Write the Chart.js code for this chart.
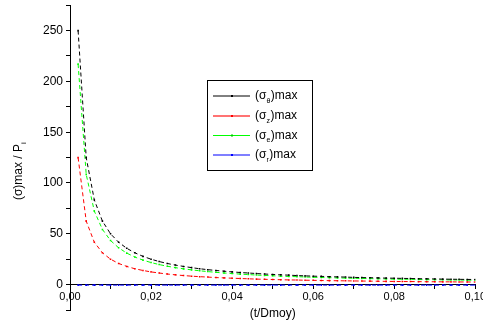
<!DOCTYPE html>
<html>
<head>
<meta charset="utf-8">
<script src="https://cdn.jsdelivr.net/npm/chart.js@4.4.1/dist/chart.umd.min.js"></script>
<style>
    html, body { margin: 0; padding: 0; background: #fff; overflow: hidden; }
    #wrap { position: absolute; left: 0; top: -5px; width: 488px; height: 331px; }
</style>
</head>
<body>
<div id="wrap"><canvas id="sigmaChart"></canvas></div>
<script>
// t/Dmoy values
const tRatio = [0.002, 0.004, 0.006, 0.008, 0.010, 0.012, 0.014, 0.016, 0.018, 0.020,
    0.022, 0.024, 0.026, 0.028, 0.030, 0.032, 0.034, 0.036, 0.038, 0.040,
    0.042, 0.044, 0.046, 0.048, 0.050, 0.052, 0.054, 0.056, 0.058, 0.060,
    0.062, 0.064, 0.066, 0.068, 0.070, 0.072, 0.074, 0.076, 0.078, 0.080,
    0.082, 0.084, 0.086, 0.088, 0.090, 0.092, 0.094, 0.096, 0.098, 0.100];

const sigmaTheta = [250, 125, 83.3, 62.5, 50, 41.7, 35.7, 31.3, 27.8, 25,
    22.7, 20.8, 19.2, 17.9, 16.7, 15.6, 14.7, 13.9, 13.2, 12.5,
    11.9, 11.4, 10.9, 10.4, 10, 9.6, 9.3, 8.9, 8.6, 8.3,
    8.1, 7.8, 7.6, 7.4, 7.1, 6.9, 6.8, 6.6, 6.4, 6.3,
    6.1, 6.0, 5.8, 5.7, 5.6, 5.4, 5.3, 5.2, 5.1, 5.0];

const sigmaZ = [125, 62.5, 41.7, 31.3, 25, 20.8, 17.9, 15.6, 13.9, 12.5,
    11.4, 10.4, 9.6, 8.9, 8.3, 7.8, 7.4, 6.9, 6.6, 6.3,
    6.0, 5.7, 5.4, 5.2, 5.0, 4.8, 4.6, 4.5, 4.3, 4.2,
    4.0, 3.9, 3.8, 3.7, 3.6, 3.5, 3.4, 3.3, 3.2, 3.1,
    3.0, 3.0, 2.9, 2.8, 2.8, 2.7, 2.7, 2.6, 2.6, 2.5];

const sigmaE = [217, 108.5, 72.3, 54.3, 43.4, 36.2, 31, 27.1, 24.1, 21.7,
    19.7, 18.1, 16.7, 15.5, 14.5, 13.6, 12.8, 12.1, 11.4, 10.9,
    10.3, 9.9, 9.4, 9.0, 8.7, 8.3, 8.0, 7.8, 7.5, 7.2,
    7.0, 6.8, 6.6, 6.4, 6.2, 6.0, 5.9, 5.7, 5.6, 5.4,
    5.3, 5.2, 5.0, 4.9, 4.8, 4.7, 4.6, 4.5, 4.4, 4.3];

const sigmaR = [-0.5, -0.5, -0.5, -0.5, -0.5, -0.5, -0.5, -0.5, -0.5, -0.5,
    -0.5, -0.5, -0.5, -0.5, -0.5, -0.5, -0.5, -0.5, -0.5, -0.5,
    -0.5, -0.5, -0.5, -0.5, -0.5, -0.5, -0.5, -0.5, -0.5, -0.5,
    -0.5, -0.5, -0.5, -0.5, -0.5, -0.5, -0.5, -0.5, -0.5, -0.5,
    -0.5, -0.5, -0.5, -0.5, -0.5, -0.5, -0.5, -0.5, -0.5, -0.5];

// legend subscripts for (σ_x)max
const seriesSubs = ["θ", "z", "e", "r"];

const FONT = "'Liberation Sans', Arial, sans-serif";
const OFF_Y = 5; // canvas is shifted up by this much

function toPoints(values) {
    return values.map((v, i) => ({ x: tRatio[i], y: v }));
}

function makeDataset(values, color) {
    return {
        data: toPoints(values),
        borderColor: color,
        backgroundColor: color,
        borderWidth: 1,
        borderDash: [4, 3],
        pointRadius: 1.1,
        pointBorderWidth: 0,
        pointStyle: 'rect',
        tension: 0
    };
}

// legend box and y-axis title drawn by hand (subscripts)
const extrasPlugin = {
    id: 'extras',
    afterDraw(chart) {
        const ctx = chart.ctx;
        ctx.save();
        ctx.translate(0, OFF_Y);

        // y title: (σ)max / P_i
        ctx.save();
        ctx.translate(19, 170);
        ctx.rotate(-Math.PI / 2);
        ctx.fillStyle = '#000';
        ctx.textBaseline = 'middle';
        ctx.font = `12px ${FONT}`;
        const main = '(σ)max / P';
        const w = ctx.measureText(main).width;
        ctx.textAlign = 'left';
        ctx.fillText(main, -w / 2 - 2, 0);
        ctx.font = `8px ${FONT}`;
        ctx.fillText('i', w / 2 - 2, 5);
        ctx.restore();

        // legend
        ctx.strokeStyle = '#000';
        ctx.lineWidth = 1;
        ctx.strokeRect(207.5, 80.5, 105, 90);
        const legendStyles = [
            { line: '#000000', w: 1, dot: '#000000' },
            { line: 'rgba(255,0,0,0.55)', w: 2, dot: '#ff0000' },
            { line: '#00ff00', w: 1, dot: '#00cc00' },
            { line: 'rgba(0,0,255,0.5)', w: 2, dot: '#0000ff' }
        ];
        const rowsY = [96, 116, 135.5, 155];
        seriesSubs.forEach((sub, i) => {
            const y = rowsY[i];
            const st = legendStyles[i];
            ctx.strokeStyle = st.line;
            ctx.lineWidth = st.w;
            ctx.beginPath();
            ctx.moveTo(213, y);
            ctx.lineTo(250, y);
            ctx.stroke();
            ctx.fillStyle = st.dot;
            ctx.fillRect(231, y - 1, 2, 2);

            ctx.fillStyle = '#000';
            ctx.textBaseline = 'middle';
            ctx.textAlign = 'left';
            ctx.font = `12px ${FONT}`;
            let x = 255;
            ctx.fillText('(σ', x, y);
            x += ctx.measureText('(σ').width;
            ctx.font = `7px ${FONT}`;
            ctx.fillText(sub, x, y + 5);
            x += ctx.measureText(sub).width + 0.5;
            ctx.font = `12px ${FONT}`;
            ctx.fillText(')max', x, y);
        });
        ctx.restore();
    }
};

document.addEventListener("DOMContentLoaded", () => {
    const ctx = document.getElementById("sigmaChart").getContext("2d");
    new Chart(ctx, {
        type: 'line',
        data: {
            datasets: [
                makeDataset(sigmaTheta, '#000000'),
                makeDataset(sigmaZ, '#ff0000'),
                makeDataset(sigmaE, '#00ff00'),
                makeDataset(sigmaR, '#0000ff')
            ]
        },
        options: {
            responsive: true,
            maintainAspectRatio: false,
            animation: false,
            layout: { padding: { left: 0, right: 3, top: 0, bottom: 16 } },
            plugins: {
                legend: { display: false },
                tooltip: { enabled: false }
            },
            scales: {
                x: {
                    type: 'linear',
                    position: { y: 0 },
                    min: 0,
                    max: 0.1,
                    border: { color: '#000', width: 1 },
                    grid: { drawOnChartArea: false, drawTicks: true, tickLength: 4, color: '#000' },
                    ticks: {
                        stepSize: 0.01,
                        autoSkip: false,
                        maxRotation: 0,
                        color: '#000',
                        padding: 2,
                        font: { family: FONT, size: 11 },
                        callback: (value) => {
                            const k = Math.round(value * 100);
                            return k % 2 === 0 ? (k / 100).toFixed(2).replace('.', ',') : '';
                        }
                    },
                    title: {
                        display: true,
                        text: '(t/Dmoy)',
                        color: '#000',
                        padding: { top: 1, bottom: 0 },
                        font: { family: FONT, size: 12 }
                    }
                },
                y: {
                    type: 'linear',
                    min: -25,
                    max: 275,
                    border: { color: '#000', width: 1 },
                    grid: { drawOnChartArea: false, drawTicks: true, tickLength: 4, color: '#000' },
                    ticks: {
                        stepSize: 25,
                        autoSkip: false,
                        color: '#000',
                        padding: 3,
                        font: { family: FONT, size: 12 },
                        callback: (value) => (value >= 0 && value % 50 === 0) ? String(value) : ''
                    },
                    afterFit: (scale) => { scale.width = 70; }
                }
            }
        },
        plugins: [extrasPlugin]
    });
});
</script>
</body>
</html>
